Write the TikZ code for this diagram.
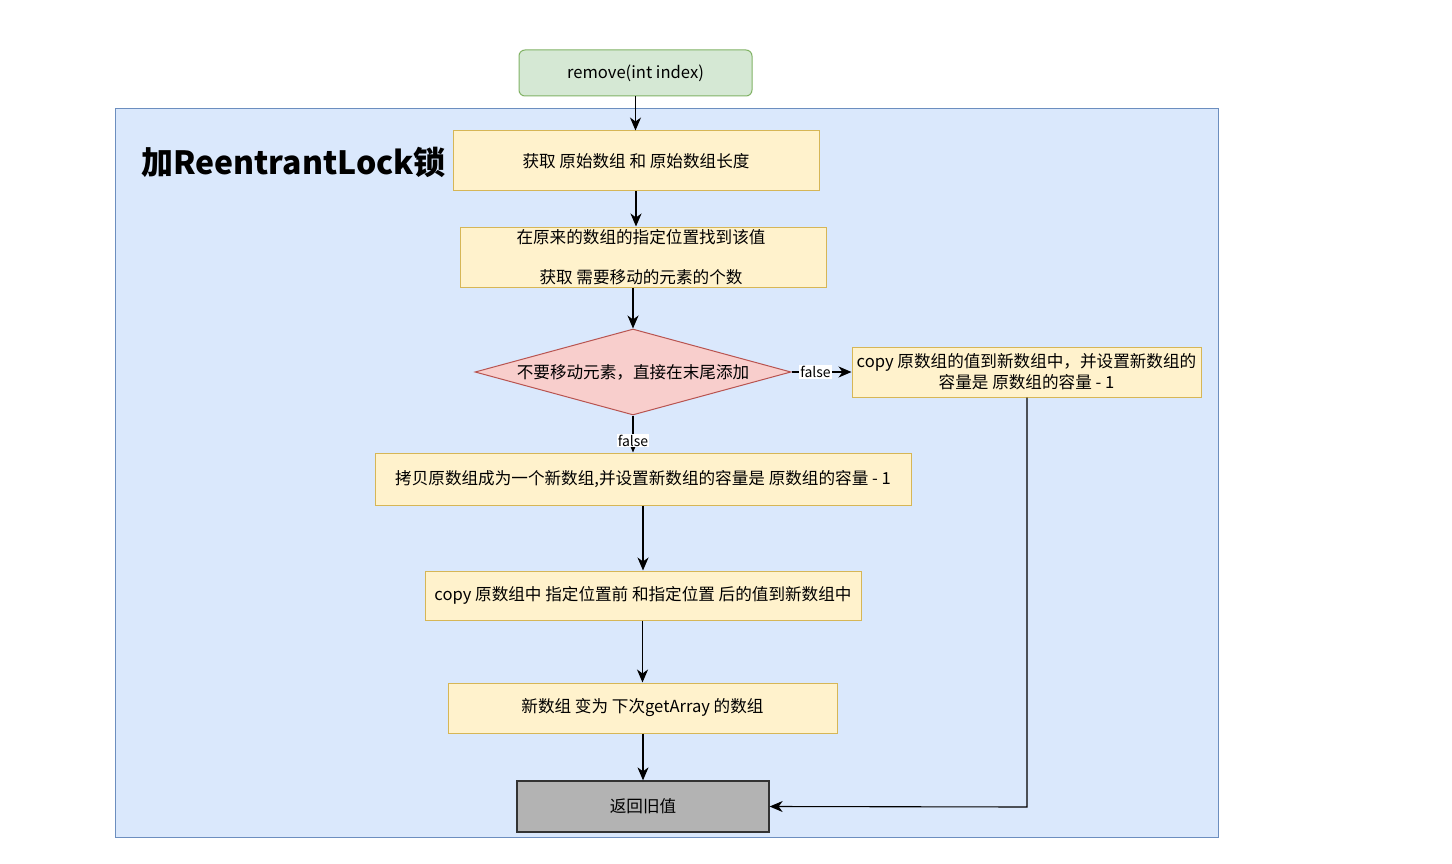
\documentclass[tikz,border=0pt]{standalone}
\usepackage{fontspec}
\setmainfont{Noto Sans CJK SC}
\usetikzlibrary{shapes.geometric,arrows.meta}
\definecolor{cfill}{HTML}{DAE8FC}
\definecolor{cdraw}{HTML}{6C8EBF}
\definecolor{yfill}{HTML}{FFF2CC}
\definecolor{ydraw}{HTML}{D6B656}
\definecolor{gfill}{HTML}{D5E8D4}
\definecolor{gdraw}{HTML}{82B366}
\definecolor{rfill}{HTML}{F8CECC}
\definecolor{rdraw}{HTML}{B85450}
\definecolor{efill}{HTML}{B3B3B3}
\definecolor{edraw}{HTML}{333333}
\tikzset{
  txt/.style={font=\fontsize{16.6}{21}\selectfont},
  ybox/.style={draw=ydraw,fill=yfill,line width=1pt,inner sep=0pt,txt,align=center},
  arr/.style={-{Stealth[length=13pt,width=11pt,inset=4pt]},line width=1.1pt,black},
  lbl/.style={fill=white,inner sep=1pt,font=\fontsize{14}{16}\selectfont}
}
\begin{document}
\begin{tikzpicture}[x=1pt,y=-1pt]
\useasboundingbox (0,0) rectangle (1452,864);
\fill[white] (0,0) rectangle (1452,864);
\node[draw=cdraw,fill=cfill,line width=1pt,minimum width=1103pt,minimum height=728pt,inner sep=0pt] (cont) at (666.5,473) {};
\node[font=\fontsize{32}{36}\selectfont\bfseries,inner sep=0pt,anchor=west] (title) at (141,162) {加ReentrantLock锁};
\node[draw=gdraw,fill=gfill,line width=1pt,rounded corners=6pt,minimum width=233pt,minimum height=46pt,inner sep=0pt,txt] (start) at (635.5,73) {remove(int index)};
\node[ybox,minimum width=366pt,minimum height=60pt] (b1) at (636,161) {获取 原始数组 和 原始数组长度};
\node[ybox,minimum width=366pt,minimum height=60pt] (b2) at (643,257) {};
\node[txt,inner sep=0pt] (b2a) at (641,237) {在原来的数组的指定位置找到该值};
\node[txt,inner sep=0pt] (b2b) at (641,277) {获取 需要移动的元素的个数};
\node[diamond,shape aspect=3.67,draw=rdraw,fill=rfill,line width=1pt,minimum width=316pt,minimum height=86pt,inner sep=0pt,txt] (dec) at (633,372) {不要移动元素，直接在末尾添加};
\node[ybox,minimum width=349pt,minimum height=50pt] (rb) at (1026.5,372) {copy 原数组的值到新数组中，并设置新数组的\\容量是 原数组的容量 - 1};
\node[ybox,minimum width=536pt,minimum height=52pt] (b3) at (643,479) {拷贝原数组成为一个新数组,并设置新数组的容量是 原数组的容量 - 1};
\node[ybox,minimum width=436pt,minimum height=49pt] (b4) at (643,595.5) {copy 原数组中 指定位置前 和指定位置 后的值到新数组中};
\node[ybox,minimum width=389pt,minimum height=50pt] (b5) at (642.5,708) {新数组 变为 下次getArray 的数组};
\node[draw=edraw,fill=efill,line width=1.3pt,minimum width=252pt,minimum height=51pt,inner sep=0pt,txt] (end) at (643,806.5) {返回旧值};
\coordinate (corner) at (1027,807);
\draw[arr] (start) -- (start |- b1.north);
\draw[arr] (b1) -- (b1 |- b2.north);
\draw[arr] (b2.south -| dec.north) -- (dec.north);
\draw[arr] (dec.east) -- node[lbl,pos=0.4] (f1) {false} (rb.west);
\draw[arr] (dec.south) -- node[lbl,pos=0.68] (f2) {false} (dec.south |- b3.north);
\draw[arr] (b3) -- (b4);
\draw[arr] (b4.south -| b5.north) -- (b5);
\draw[arr] (b5.south -| end.north) -- (end);
\draw[arr] (rb.south -| corner) -- (corner) -- (end.east);
\end{tikzpicture}
\end{document}
